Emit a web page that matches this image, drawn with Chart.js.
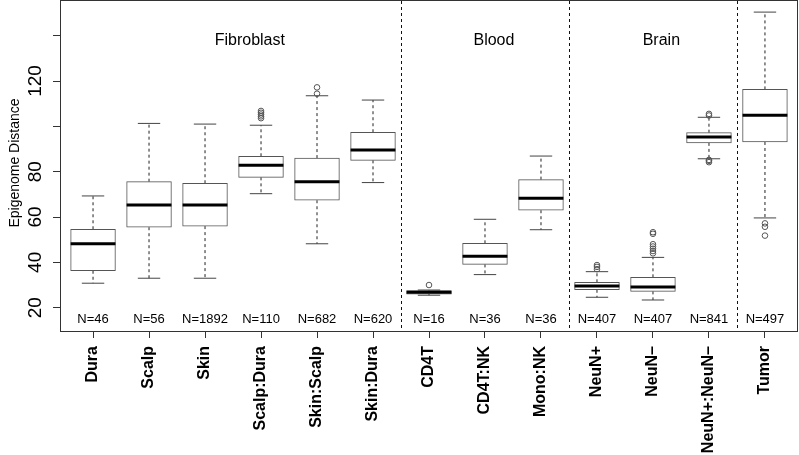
<!DOCTYPE html>
<html>
<head>
<meta charset="utf-8">
<script src="https://cdn.jsdelivr.net/npm/chart.js@4"></script>
<style>
  html, body { margin: 0; padding: 0; background: #fff; }
</style>
</head>
<body>
<canvas id="myChart" width="799" height="455"></canvas>
<script>
// boxplot stats, one entry per tissue
const categories = ["Dura", "Scalp", "Skin", "Scalp:Dura", "Skin:Scalp", "Skin:Dura", "CD4T", "CD4T:NK", "Mono:NK", "NeuN+", "NeuN–", "NeuN+:NeuN–", "Tumor"]
const counts = [46, 56, 1892, 110, 682, 620, 16, 36, 36, 407, 407, 841, 497]
const whiskerLow = [30.8, 33.0, 33.0, 70.3, 48.2, 75.2, 25.5, 34.6, 54.4, 24.6, 23.4, 85.7, 59.6]
const q1 = [36.3, 55.5, 56.0, 77.5, 67.4, 85.0, 26.0, 39.1, 63.0, 27.9, 27.2, 92.7, 93.1]
const medians = [48.2, 65.3, 65.3, 82.8, 75.6, 89.6, 26.8, 42.7, 68.3, 29.6, 29.1, 95.3, 104.9]
const q3 = [54.6, 75.6, 74.9, 86.8, 86.0, 97.4, 27.5, 48.4, 76.5, 31.2, 33.4, 97.2, 116.3]
const whiskerHigh = [69.3, 101.3, 101.0, 100.5, 113.5, 111.6, 27.8, 59.0, 86.9, 35.9, 42.2, 104.0, 150.4]
const outliers = [[], [], [], [103.6, 104.4, 105.2, 106.0, 106.8], [114.4, 117.2], [], [30.0], [], [], [37.0, 38.0, 38.8], [44.0, 45.0, 46.0, 47.0, 48.0, 52.6, 53.3], [84.2, 84.8, 85.2, 104.8, 105.5], [51.8, 55.7, 57.2]]

const groups = ["Fibroblast", "Blood", "Brain", ""]
const groupSizes = [6, 3, 3, 1]

const yTicks = [20, 40, 60, 80, 100, 120, 140]
const yTickLabels = ["20", "40", "60", "80", "", "120", ""]

const font = "'Liberation Sans', Arial, Helvetica, sans-serif"
const lineColor = '#444'

const idx = categories.map((c, i) => i)

let whiskerData = []
let capData = []
idx.forEach(i => {
  whiskerData.push({ x: i, y: q3[i] }, { x: i, y: whiskerHigh[i] }, { x: i, y: null })
  whiskerData.push({ x: i, y: q1[i] }, { x: i, y: whiskerLow[i] }, { x: i, y: null })
  capData.push({ x: i, y: whiskerHigh[i] }, { x: i, y: whiskerLow[i] })
})
let outlierData = []
outliers.forEach((list, i) => list.forEach(v => outlierData.push({ x: i, y: v })))

// group breaks fall half way between the last box of one group and the next
let breaks = []
let acc = 0
groupSizes.slice(0, -1).forEach(n => { acc += n; breaks.push(acc - 0.5) })

// where the group titles sit, in category units
const groupLabelX = [2.8, 7.16, 10.15]

let decorations = {
  id: 'decorations',
  afterDatasetsDraw: chart => {
    const { ctx, chartArea: a, scales: { x, y } } = chart
    ctx.save()

    // dashed separators between tissue groups
    ctx.strokeStyle = '#111'
    ctx.lineWidth = 1
    ctx.setLineDash([3, 3])
    breaks.forEach(b => {
      const px = Math.round(x.getPixelForValue(b)) + 0.5
      ctx.beginPath()
      ctx.moveTo(px, a.top)
      ctx.lineTo(px, a.bottom)
      ctx.stroke()
    })
    ctx.setLineDash([])

    // plot frame
    ctx.strokeStyle = '#333'
    ctx.strokeRect(a.left + 0.5, a.top - 0.5, a.right - a.left - 1, a.bottom - a.top)

    ctx.fillStyle = '#000'
    ctx.textAlign = 'center'
    ctx.textBaseline = 'middle'

    ctx.font = '16px ' + font
    groups.forEach((g, i) => {
      if (g) ctx.fillText(g, x.getPixelForValue(groupLabelX[i]), 41)
    })

    ctx.font = '13px ' + font
    counts.forEach((n, i) => {
      ctx.fillText('N=' + n, x.getPixelForValue(i), a.bottom - 12.5)
    })

    // y tick labels, written upright like R's default
    ctx.font = '19px ' + font
    yTicks.forEach((v, i) => {
      if (!yTickLabels[i]) return
      ctx.save()
      ctx.translate(36, y.getPixelForValue(v))
      ctx.rotate(-Math.PI / 2)
      ctx.fillText(yTickLabels[i], 0, 0)
      ctx.restore()
    })

    ctx.font = '14px ' + font
    ctx.translate(15, 163)
    ctx.rotate(-Math.PI / 2)
    ctx.fillText('Epigenome Distance', 0, 0)

    ctx.restore()
  }
}

let ctx = document.getElementById('myChart')
let myChart = new Chart(ctx, {
  type: 'bar',
  data: {
    datasets: [
      {
        type: 'scatter',
        data: outlierData,
        pointStyle: 'circle',
        pointRadius: 2.8,
        backgroundColor: 'rgba(0,0,0,0)',
        borderColor: '#555',
        borderWidth: 1,
        order: 0
      },
      {
        type: 'scatter',
        data: idx.map(i => ({ x: i, y: medians[i] })),
        pointStyle: 'line',
        pointRadius: 22.4,
        borderColor: '#000',
        borderWidth: 3,
        order: 1
      },
      {
        type: 'scatter',
        data: capData,
        pointStyle: 'line',
        pointRadius: 11.2,
        borderColor: lineColor,
        borderWidth: 1,
        order: 2
      },
      {
        type: 'bar',
        data: idx.map(i => ({ x: i, y: [q1[i], q3[i]] })),
        backgroundColor: '#fff',
        borderColor: '#555',
        borderWidth: 1,
        borderSkipped: false,
        barThickness: 44.8,
        grouped: false,
        order: 3
      },
      {
        type: 'line',
        data: whiskerData,
        borderColor: '#222',
        borderWidth: 1,
        borderDash: [3, 3],
        pointRadius: 0,
        spanGaps: false,
        fill: false,
        order: 4
      }
    ]
  },
  options: {
    responsive: false,
    animation: false,
    events: [],
    layout: { autoPadding: false, padding: { top: 1, right: 1, left: 0, bottom: 0 } },
    plugins: {
      legend: { display: false },
      tooltip: { enabled: false }
    },
    scales: {
      x: {
        type: 'linear',
        offset: false,
        min: -0.59,
        max: 12.59,
        afterBuildTicks: s => { s.ticks = idx.map(i => ({ value: i })) },
        afterFit: s => { s.height = 123 },
        ticks: {
          autoSkip: false,
          minRotation: 90,
          maxRotation: 90,
          padding: 8,
          color: '#000',
          font: { family: font, size: 16, weight: 'bold' },
          callback: v => categories[v]
        },
        grid: { offset: false, drawOnChartArea: false, drawTicks: true, tickLength: 6, color: '#333' },
        border: { display: false }
      },
      y: {
        min: 9.28,
        max: 155.3,
        afterBuildTicks: s => { s.ticks = yTicks.map(v => ({ value: v })) },
        afterFit: s => { s.width = 60 },
        ticks: { display: false },
        grid: { drawOnChartArea: false, drawTicks: true, tickLength: 7, color: '#333' },
        border: { display: false }
      }
    }
  },
  plugins: [decorations]
})
</script>
</body>
</html>
